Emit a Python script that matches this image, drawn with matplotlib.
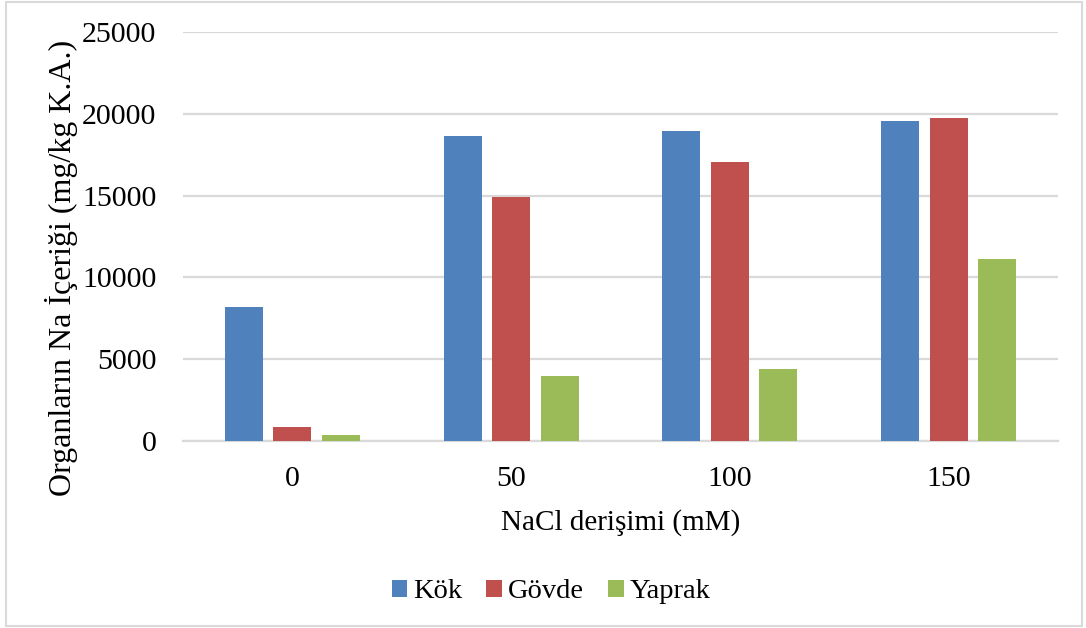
import matplotlib.pyplot as plt
import numpy as np
from matplotlib.patches import Rectangle

plt.rcParams["font.family"] = ["Liberation Serif", "DejaVu Serif"]

categories = ["0", "50", "100", "150"]
series_names = ["Kök", "Gövde", "Yaprak"]
kok = [8220, 18670, 18930, 19570]
govde = [880, 14930, 17030, 19750]
yaprak = [370, 3980, 4420, 11140]
colors = ["#4F81BD", "#C0504D", "#9BBB59"]

fig = plt.figure(figsize=(10.86, 6.28), dpi=100)
ax = fig.add_axes([0.1685, 0.2978, 0.8057, 0.6512])

x = np.arange(len(categories))
width = 0.174
step = 0.222
for i, (vals, name) in enumerate(zip([kok, govde, yaprak], series_names)):
    ax.bar(x + (i - 1) * step, vals, width, color=colors[i], label=name, zorder=3)

ax.set_xlim(-0.5, 3.5)
ax.set_ylim(0, 25000)
ax.set_yticks(range(0, 25001, 5000))
ax.set_xticks(x)
ax.set_xticklabels(categories)
ax.grid(axis="y", color="#D9D9D9", linewidth=1.6, zorder=0)
for s in ["top", "right", "left"]:
    ax.spines[s].set_visible(False)
ax.spines["bottom"].set_color("#D9D9D9")
ax.spines["bottom"].set_linewidth(1.6)
ax.tick_params(axis="both", length=0, labelsize=21.5)
ax.tick_params(axis="y", pad=19)
ax.tick_params(axis="x", pad=18)

ax.set_xlabel("NaCl derişimi (mM)", fontsize=21, labelpad=12)
fig.text(62 / 1086, 1 - 268 / 628, "Organların Na İçeriği (mg/kg K.A.)",
         rotation=90, ha="center", va="center", fontsize=23)

leg = fig.legend(loc="center", bbox_to_anchor=(551 / 1086, 1 - 592 / 628), ncol=3,
                 frameon=False, fontsize=20.5, handlelength=0.55, handleheight=0.55,
                 handletextpad=0.2, columnspacing=0.85)

fig.patches.append(Rectangle((6 / 1086, 2 / 628), 1 - 10 / 1086, 1 - 4 / 628,
                             transform=fig.transFigure, fill=False,
                             edgecolor="#D9D9D9", linewidth=1.5))

fig.savefig("out.png", dpi=100)
